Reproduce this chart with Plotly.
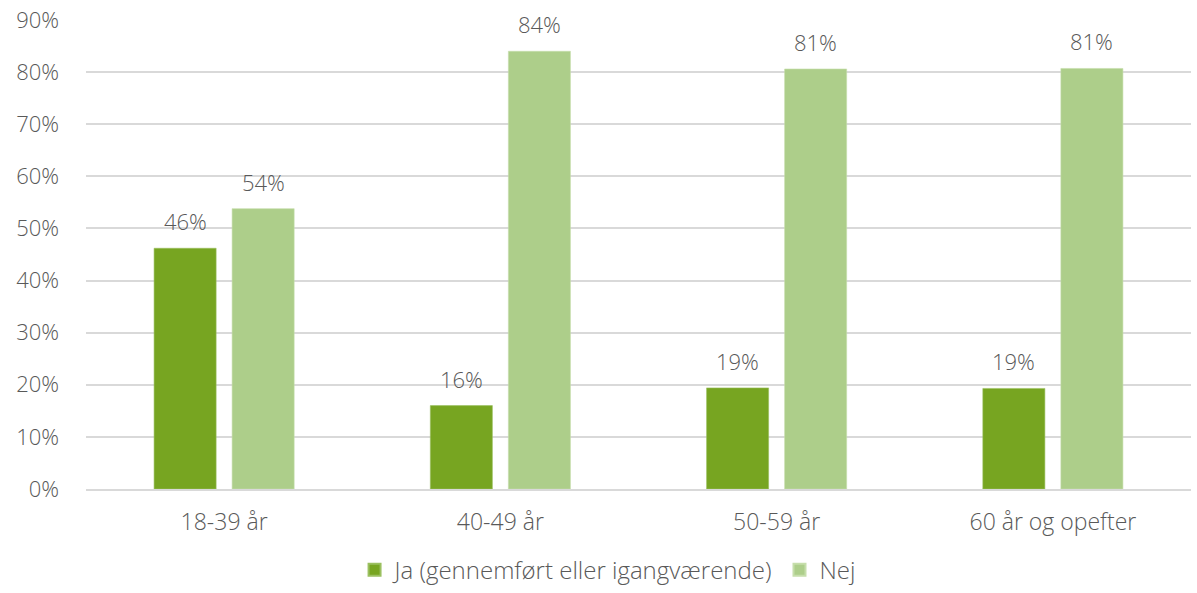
import plotly.graph_objects as go

# Age groups and share of respondents per answer (%)
age_groups = ["18-39 år", "40-49 år", "50-59 år", "60 år og opefter"]
ja_values = [46.2, 16.0, 19.4, 19.3]
nej_values = [53.8, 84.0, 80.6, 80.7]
series_names = ["Ja (gennemført eller igangværende)", "Nej"]
y_ticks = [0, 10, 20, 30, 40, 50, 60, 70, 80, 90]
y_tick_labels = [f"{t}%" for t in y_ticks]

FONT = "Open Sans"
TEXT = "#595959"
BARGAP = 0.435
GROUPGAP = 0.205

fig = go.Figure()
fig.add_trace(go.Bar(
    x=age_groups, y=ja_values, name=series_names[0],
    marker=dict(color="#77A521", line=dict(color="#9BC060", width=0.6)),
))
fig.add_trace(go.Bar(
    x=age_groups, y=nej_values, name=series_names[1],
    marker=dict(color="#ADCE8A", line=dict(color="#C6DEAB", width=0.6)),
))

# Value labels above each bar
half_slot = (1 - BARGAP) / 4
annotations = []
for i, (ja, nej) in enumerate(zip(ja_values, nej_values)):
    for offset, val in ((-half_slot, ja), (half_slot, nej)):
        annotations.append(dict(
            x=i + offset, y=val, xref="x", yref="y",
            text=f"{round(val)}%", showarrow=False,
            yanchor="middle", yshift=27,
            font=dict(family=FONT, size=22, color=TEXT, weight=300),
        ))

fig.update_layout(
    width=1197, height=593,
    margin=dict(l=86, r=6, t=20, b=104, autoexpand=False),
    paper_bgcolor="white", plot_bgcolor="white",
    barmode="group", bargap=BARGAP, bargroupgap=GROUPGAP,
    font=dict(family=FONT, size=22, color=TEXT, weight=300),
    showlegend=True,
    legend=dict(
        orientation="h", x=0.472, xanchor="center", y=-0.221, yanchor="bottom",
        font=dict(family=FONT, size=24, color=TEXT, weight=300),
        itemsizing="constant", traceorder="normal",
        itemwidth=30,
    ),
    annotations=annotations,
)
fig.update_xaxes(
    showgrid=False, showline=True, linecolor="#D9D9D9", linewidth=1.5,
    ticks="", ticklabelstandoff=12,
    tickfont=dict(family=FONT, size=23, color=TEXT, weight=300),
)
fig.update_yaxes(
    range=[0, 90], tickvals=y_ticks, ticktext=y_tick_labels,
    showgrid=True, gridcolor="#D9D9D9", gridwidth=1.5,
    zeroline=False, showline=False, ticks="", ticklabelstandoff=26,
    tickfont=dict(family=FONT, size=22, color=TEXT, weight=300),
)

fig.write_html("out.html")
